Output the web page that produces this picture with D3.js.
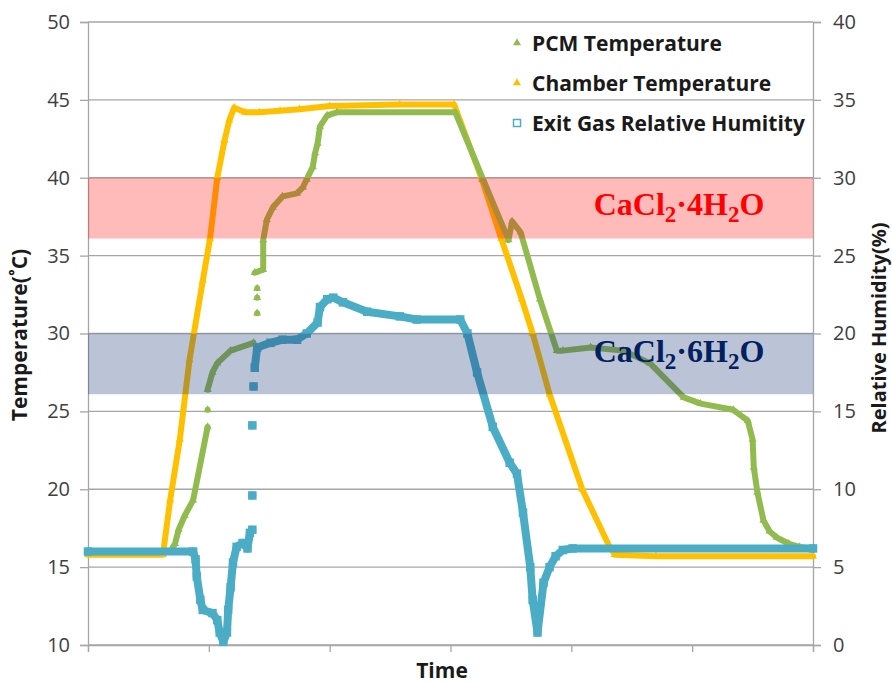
<!DOCTYPE html>
<meta charset="utf-8">
<body style="margin:0; background:#fff;">
<script src="https://cdn.jsdelivr.net/npm/d3@7"></script>
<svg id="chart" width="892" height="683"></svg>
<script>
// data (time in arbitrary units, null = gap in the trace)
var pcmTime = [0, 0.68, 0.72, 0.75, 0.80, 0.87, 0.99, null, 0.99, null, 0.99, 1.03, 1.07, 1.18, 1.37, null, 1.40, null, 1.40, null, 1.40, null,
               1.38, 1.45, 1.45, 1.48, 1.53, 1.61, 1.73, 1.78, 1.81, 1.86, 1.88, 1.90, 1.92, 1.98, 2.06, 3.04, 3.27, 3.48,
               3.51, 3.58, 3.74, 3.88, 3.93, 4.16, 4.43, 4.65, 4.93, 5.07, 5.34, 5.46, 5.50, 5.51, 5.54, 5.59, 5.64, 5.70, 5.80, 5.89, 6.0];
var pcmTemp = [16.0, 16.0, 16.5, 17.4, 18.3, 19.3, 24.0, null, 25.1, null, 26.4, 27.5, 28.1, 28.9, 29.4, null, 31.3, null, 32.3, null, 32.9, null,
               33.9, 34.1, 36.0, 37.3, 38.1, 38.8, 39.0, 39.4, 39.9, 40.7, 41.6, 42.2, 43.3, 44.0, 44.2, 44.2, 39.9, 36.0,
               37.2, 36.5, 32.2, 28.9, 28.9, 29.1, 28.9, 28.1, 25.9, 25.5, 25.1, 24.4, 23.2, 21.4, 19.8, 18.0, 17.3, 16.9, 16.5, 16.3, 16.2];

var chamberTime = [0, 0.62, 0.68, 0.76, 0.84, 0.95, 1.01, 1.07, 1.13, 1.17, 1.21, 1.30, 1.42, 1.59, 1.75, 2.0, 2.58, 3.03,
                   3.26, 3.42, 3.59, 3.68, 3.82, 4.09, 4.31, 4.36, 4.7, 6.0];
var chamberTemp = [15.8, 15.8, 19.3, 23.2, 28.3, 33.4, 36.1, 40.0, 42.4, 43.7, 44.5, 44.2, 44.2, 44.3, 44.4, 44.6, 44.7, 44.7,
                   39.9, 36.1, 32.2, 30.0, 26.1, 20.0, 16.4, 15.8, 15.7, 15.7];

var rhTime = [0, 0.87, 0.89, 0.90, 0.93, 0.95, 1.03, 1.07, 1.09, 1.12, 1.15, 1.16, 1.18, 1.20, 1.23, 1.28, 1.32, 1.34, null,
              1.36, null, 1.36, null, 1.36, null, 1.37, null, 1.38, 1.40, 1.51, 1.61, 1.73, 1.81, 1.90, 1.92, 1.98, 2.03, 2.11,
              2.31, 2.58, 2.72, 3.08, 3.14, 3.22, 3.35, 3.49, 3.55, 3.60, 3.66, 3.68, 3.72, 3.77, 3.82, 3.87, 3.93, 4.01, 6.0];
var rhValue = [6.0, 6.0, 5.5, 4.4, 2.9, 2.25, 2.05, 1.6, 0.8, 0.2, 0.8, 2.25, 3.7, 5.3, 6.3, 6.55, 6.2, 7.2, null,
               7.4, null, 9.6, null, 14.1, null, 16.6, null, 17.8, 19.1, 19.4, 19.6, 19.6, 20.0, 20.7, 21.7, 22.2, 22.3, 22.0,
               21.4, 21.1, 20.9, 20.9, 20.0, 17.5, 14.0, 11.7, 11.0, 8.5, 5.0, 2.9, 0.8, 4.0, 5.0, 5.7, 6.1, 6.2, 6.2];

var leftTicks = [10, 15, 20, 25, 30, 35, 40, 45, 50];
var rightTicks = [0, 5, 10, 15, 20, 25, 30, 35, 40];
var timeTicks = [0, 1, 2, 3, 4, 5, 6];
var bandTetra = [36.1, 40];   // CaCl2·4H2O
var bandHexa = [26.1, 30];    // CaCl2·6H2O

var svg = d3.select("#chart");
var pLeft = 88, pRight = 813, pTop = 22, pBottom = 645;

var x = d3.scaleLinear().domain([0, 6]).range([pLeft, pRight]);
var yT = d3.scaleLinear().domain([10, 50]).range([pBottom, pTop]);
var yH = d3.scaleLinear().domain([0, 40]).range([pBottom, pTop]);

function pts(ts, vs) {
  return ts.map(function(t, i) { return {t: t, v: vs[i]}; });
}
var pcm = pts(pcmTime, pcmTemp), chamber = pts(chamberTime, chamberTemp), rh = pts(rhTime, rhValue);
function real(d) { return d.t !== null; }

// grid
svg.append("g").selectAll("line").data(leftTicks).enter().append("line")
  .attr("x1", pLeft).attr("x2", pRight)
  .attr("y1", function(d) { return yT(d); }).attr("y2", function(d) { return yT(d); })
  .attr("stroke", "#a6a6a6").attr("stroke-width", 1.3);

// axes
var axL = svg.append("g").attr("transform", "translate(" + pLeft + ",0)")
  .call(d3.axisLeft(yT).tickValues(leftTicks).tickSize(8).tickPadding(10));
var axR = svg.append("g").attr("transform", "translate(" + pRight + ",0)")
  .call(d3.axisRight(yH).tickValues(rightTicks).tickSize(8).tickPadding(12));
var axB = svg.append("g").attr("transform", "translate(0," + pBottom + ")")
  .call(d3.axisBottom(x).tickValues(timeTicks).tickSize(7).tickFormat(""));
[axL, axR, axB].forEach(function(a) {
  a.select(".domain").attr("stroke", "#a6a6a6").attr("stroke-width", 1.3);
  a.selectAll(".tick line").attr("stroke", "#a6a6a6").attr("stroke-width", 1.3);
  a.selectAll(".tick text").attr("fill", "#404040")
    .style("font-family", "'Open Sans', sans-serif").style("font-size", "20px");
});

// series: markers first, dense trace drawn over them so only isolated points stand out
function drawLine(data, yScale, color, w) {
  svg.append("path").datum(data)
    .attr("fill", "none").attr("stroke", color).attr("stroke-width", w)
    .attr("stroke-linejoin", "round").attr("stroke-linecap", "round")
    .attr("d", d3.line().defined(real)
      .x(function(d) { return x(d.t); }).y(function(d) { return yScale(d.v); }));
}
var tri = d3.symbol().type(d3.symbolTriangle).size(28);

svg.append("g").selectAll("path").data(chamber.filter(real)).enter()
  .append("path").attr("d", tri).attr("fill", "#ffc000")
  .attr("transform", function(d) { return "translate(" + x(d.t) + "," + yT(d.v) + ")"; });
drawLine(chamber, yT, "#ffc000", 6);

svg.append("g").selectAll("path").data(pcm.filter(real)).enter()
  .append("path").attr("d", tri).attr("fill", "#92bb4f")
  .attr("transform", function(d) { return "translate(" + x(d.t) + "," + yT(d.v) + ")"; });
drawLine(pcm, yT, "#92bb4f", 6);

svg.append("g").selectAll("rect").data(rh.filter(real)).enter()
  .append("rect").attr("width", 7).attr("height", 7)
  .attr("x", function(d) { return x(d.t) - 3.5; }).attr("y", function(d) { return yH(d.v) - 3.5; })
  .attr("fill", "#fff").attr("stroke", "#4bacc6").attr("stroke-width", 1.5);
drawLine(rh, yH, "#4bacc6", 8);

// hydrate bands on top, translucent
svg.append("rect").attr("x", pLeft).attr("width", pRight - pLeft)
  .attr("y", yT(bandTetra[1])).attr("height", yT(bandTetra[0]) - yT(bandTetra[1]))
  .attr("fill", "rgba(255,0,0,0.27)");
svg.append("rect").attr("x", pLeft).attr("width", pRight - pLeft)
  .attr("y", yT(bandHexa[1])).attr("height", yT(bandHexa[0]) - yT(bandHexa[1]))
  .attr("fill", "rgba(31,56,120,0.3)");

function formula(n, y, color) {
  var t = svg.append("text").attr("x", 679).attr("y", y).attr("text-anchor", "middle")
    .attr("fill", color).style("font-family", "'Liberation Serif', serif")
    .style("font-weight", "bold").style("font-size", "32px");
  t.append("tspan").text("CaCl");
  t.append("tspan").text("2").attr("dy", 7).style("font-size", "23px");
  t.append("tspan").text("\u00b7" + n + "H").attr("dy", -7);
  t.append("tspan").text("2").attr("dy", 7).style("font-size", "23px");
  t.append("tspan").text("O").attr("dy", -7);
}
formula(4, 215, "#ff0000");
formula(6, 362, "#002060");

// legend
var legend = [
  {label: "PCM Temperature", color: "#92bb4f", shape: "tri"},
  {label: "Chamber Temperature", color: "#ffc000", shape: "tri"},
  {label: "Exit Gas Relative Humitity", color: "#4bacc6", shape: "sq"}
];
var lg = svg.append("g").selectAll("g").data(legend).enter().append("g")
  .attr("transform", function(d, i) { return "translate(517," + (43 + i * 40) + ")"; });
lg.filter(function(d) { return d.shape === "tri"; }).append("path")
  .attr("d", tri).attr("fill", function(d) { return d.color; });
lg.filter(function(d) { return d.shape === "sq"; }).append("rect")
  .attr("x", -3.5).attr("y", -3.5).attr("width", 7).attr("height", 7)
  .attr("fill", "#fff").attr("stroke", function(d) { return d.color; }).attr("stroke-width", 1.5);
lg.append("text").attr("x", 15).attr("y", 8).text(function(d) { return d.label; })
  .attr("fill", "#1a1a1a").style("font-family", "'Open Sans', sans-serif")
  .style("font-weight", "bold").style("font-size", "21px");

// axis titles
svg.append("text").attr("transform", "translate(27,335) rotate(-90)").attr("text-anchor", "middle")
  .text("Temperature(\u02daC)").attr("fill", "#1a1a1a")
  .style("font-family", "'Open Sans', sans-serif").style("font-weight", "bold").style("font-size", "21px");
svg.append("text").attr("transform", "translate(886,328) rotate(-90)").attr("text-anchor", "middle")
  .text("Relative Humidity(%)").attr("fill", "#1a1a1a")
  .style("font-family", "'Open Sans', sans-serif").style("font-weight", "bold").style("font-size", "20px");
svg.append("text").attr("x", 442).attr("y", 678).attr("text-anchor", "middle")
  .text("Time").attr("fill", "#1a1a1a")
  .style("font-family", "'Open Sans', sans-serif").style("font-weight", "bold").style("font-size", "21px");
</script>
</body>
